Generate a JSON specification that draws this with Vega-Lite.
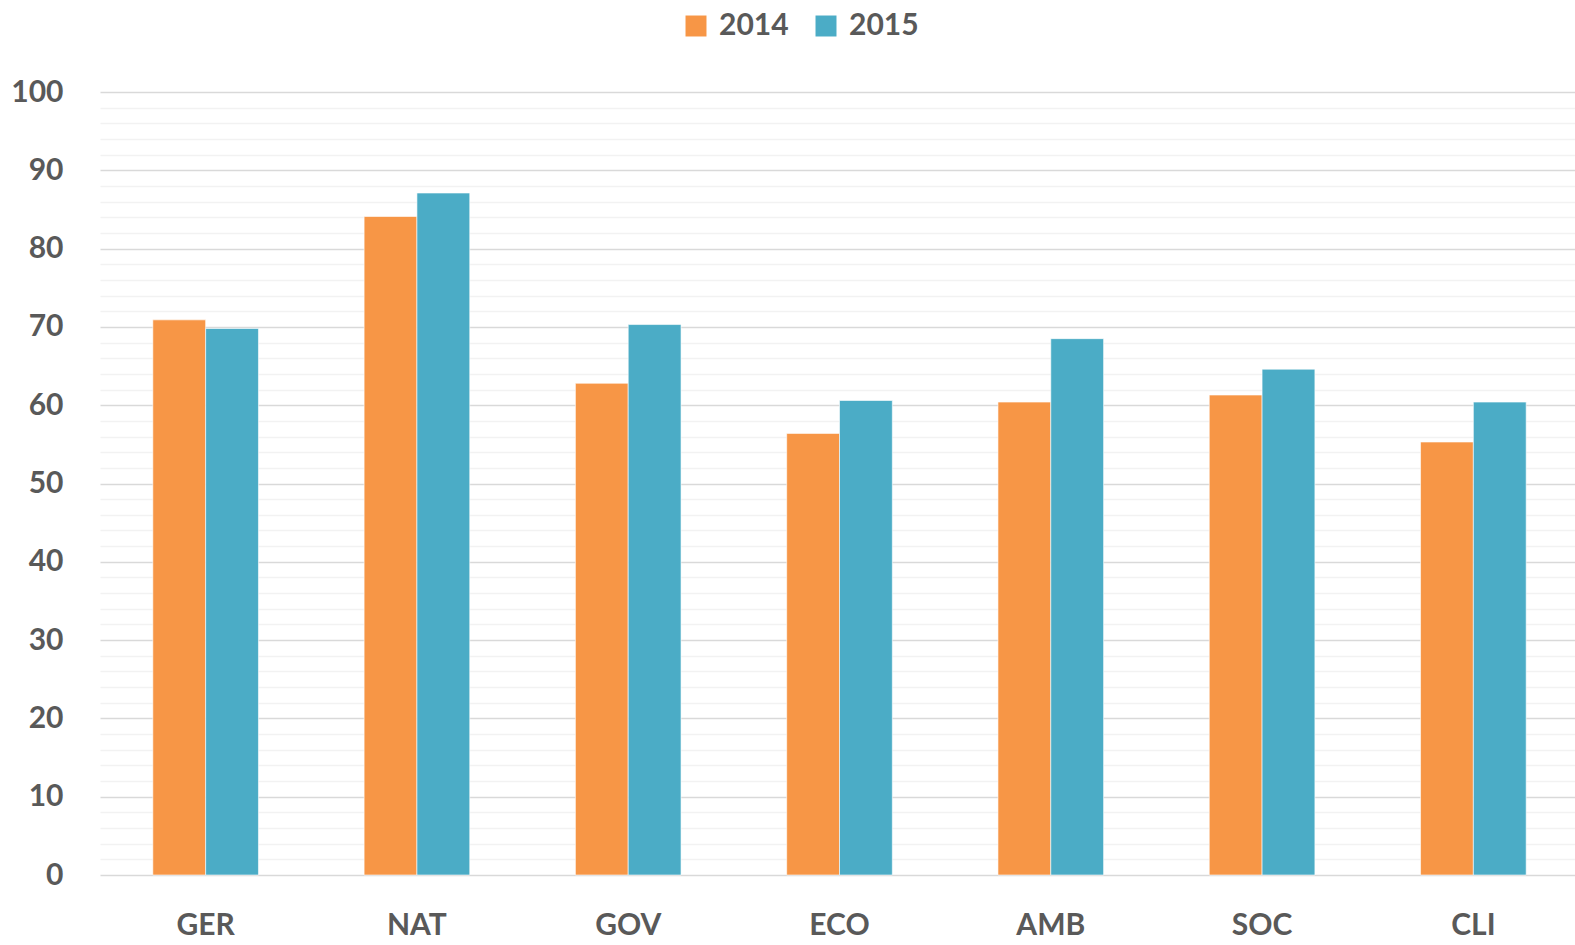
{
  "$schema": "https://vega.github.io/schema/vega-lite/v6.json",
  "autosize": "none",
  "width": 1479,
  "height": 783,
  "padding": {"left": 100, "top": 92, "right": 0, "bottom": 70},
  "background": "white",
  "config": {
    "font": "Lato",
    "view": {"stroke": null}
  },
  "data": {
    "values": [
      {"cat": "GER", "year": "2014", "value": 70.9},
      {"cat": "GER", "year": "2015", "value": 69.8},
      {"cat": "NAT", "year": "2014", "value": 84.1},
      {"cat": "NAT", "year": "2015", "value": 87.1},
      {"cat": "GOV", "year": "2014", "value": 62.8},
      {"cat": "GOV", "year": "2015", "value": 70.3},
      {"cat": "ECO", "year": "2014", "value": 56.4},
      {"cat": "ECO", "year": "2015", "value": 60.6},
      {"cat": "AMB", "year": "2014", "value": 60.4},
      {"cat": "AMB", "year": "2015", "value": 68.5},
      {"cat": "SOC", "year": "2014", "value": 61.3},
      {"cat": "SOC", "year": "2015", "value": 64.6},
      {"cat": "CLI", "year": "2014", "value": 55.3},
      {"cat": "CLI", "year": "2015", "value": 60.4}
    ]
  },
  "layer": [
    {
      "mark": {"type": "bar", "opacity": 0},
      "encoding": {
        "x": {
          "field": "cat", "type": "nominal", "sort": null,
          "scale": {"paddingInner": 0.5, "paddingOuter": 0.25},
          "axis": {
            "title": null, "domain": false, "ticks": false, "labelAngle": 0,
            "labelFont": "Lato", "labelFontSize": 30, "labelFontWeight": "bold",
            "labelColor": "#595959", "labelPadding": 35
          }
        },
        "xOffset": {"field": "year", "type": "nominal"},
        "y": {
          "field": "value", "type": "quantitative",
          "scale": {"domain": [0, 100], "nice": false},
          "axis": {
            "orient": "left",
            "values": [2,4,6,8,12,14,16,18,22,24,26,28,32,34,36,38,42,44,46,48,52,54,56,58,62,64,66,68,72,74,76,78,82,84,86,88,92,94,96,98],
            "labels": false, "ticks": false, "domain": false, "title": null,
            "grid": true, "gridColor": "#F2F2F2", "gridWidth": 1.5
          }
        }
      }
    },
    {
      "mark": {"type": "bar", "stroke": "white", "strokeWidth": 1, "strokeOpacity": 0.6},
      "encoding": {
        "x": {
          "field": "cat", "type": "nominal", "sort": null,
          "scale": {"paddingInner": 0.5, "paddingOuter": 0.25},
          "axis": {
            "title": null, "domain": false, "ticks": false, "labelAngle": 0,
            "labelFont": "Lato", "labelFontSize": 30, "labelFontWeight": "bold",
            "labelColor": "#595959", "labelPadding": 35
          }
        },
        "xOffset": {"field": "year", "type": "nominal"},
        "y": {
          "field": "value", "type": "quantitative",
          "scale": {"domain": [0, 100], "nice": false},
          "axis": {
            "orient": "left",
            "values": [0,10,20,30,40,50,60,70,80,90,100],
            "title": null, "domain": false, "ticks": false,
            "grid": true, "gridColor": "#D9D9D9", "gridWidth": 1.5,
            "labelFont": "Lato", "labelFontSize": 30, "labelFontWeight": "bold",
            "labelColor": "#595959", "labelPadding": 37
          }
        },
        "color": {
          "field": "year", "type": "nominal",
          "scale": {"domain": ["2014", "2015"], "range": ["#F79646", "#4BACC6"]},
          "legend": {
            "title": null, "orient": "none", "direction": "horizontal",
            "legendX": 581, "legendY": -81,
            "symbolType": "square", "symbolSize": 440, "symbolStrokeWidth": 0,
            "labelFont": "Lato", "labelFontSize": 30, "labelFontWeight": "bold",
            "labelColor": "#595959", "labelOffset": 8, "columnPadding": 22
          }
        }
      }
    }
  ],
  "resolve": {"axis": {"y": "independent"}}
}
